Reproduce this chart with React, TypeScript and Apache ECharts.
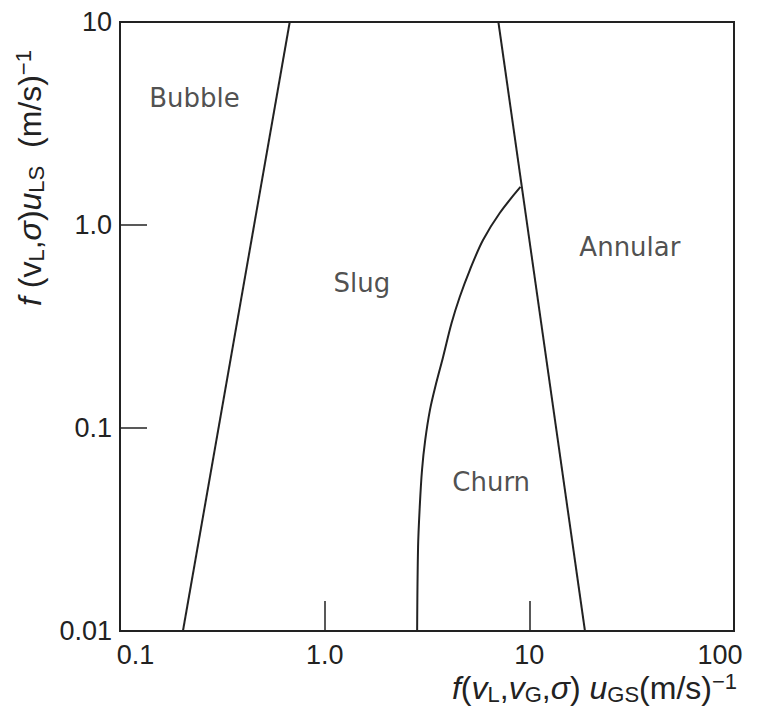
import React, { useEffect, useRef } from "react";
import * as echarts from "echarts";

const xTickLabels = ["0.1", "1.0", "10", "100"];
const yTickLabels = ["0.01", "0.1", "1.0", "10"];

// Bubble / Slug boundary
const bubbleSlugX = [0.203, 0.675];
const bubbleSlugY = [0.01, 10];

// Slug / Annular (and Churn / Annular) boundary
const slugAnnularX = [7.06, 18.7];
const slugAnnularY = [10, 0.01];

// Slug / Churn boundary
const churnX = [2.83, 2.86, 2.914, 2.99, 3.1, 3.27, 3.5, 3.79, 4.17, 4.57, 5.12, 5.94, 7.17, 9.05];
const churnY = [0.01, 0.0259, 0.0408, 0.0621, 0.0873, 0.1228, 0.165, 0.224, 0.329, 0.442, 0.6, 0.843, 1.146, 1.54];

// Regime labels
const regimeNames = ["Bubble", "Slug", "Annular", "Churn"];
const regimeX = [0.231, 1.52, 31.0, 6.51];
const regimeY = [4.23, 0.518, 0.78, 0.0542];

const ink = "#222";

const pairs = (xs: number[], ys: number[]) => xs.map((x, i) => [x, ys[i]]);

export default function App() {
  const ref = useRef<HTMLDivElement>(null);
  useEffect(() => {
    if (!ref.current) return;
    const chart = echarts.init(ref.current, null, { renderer: "svg" });
    const lineStyle = { color: ink, width: 2 };
    const rich = {
      i: { fontFamily: "Liberation Sans", fontStyle: "italic", fontSize: 32, color: ink },
      s: { fontFamily: "Liberation Sans", fontSize: 22, color: ink, padding: [13, 0, 0, 0] },
      p: { fontFamily: "Liberation Sans", fontSize: 22, color: ink, padding: [0, 0, 14, 0] },
    };
    chart.setOption({
      animation: false,
      backgroundColor: "#fff",
      grid: {
        left: 120,
        right: 28,
        top: 22,
        bottom: 90,
        show: true,
        borderColor: ink,
        borderWidth: 2,
        backgroundColor: "transparent",
      },
      xAxis: {
        type: "log",
        logBase: 10,
        min: 0.1,
        max: 100,
        axisLine: { show: false },
        splitLine: { show: false },
        axisTick: { show: true, inside: true, length: 30, lineStyle: { color: ink, width: 1.5 } },
        minorTick: { show: false },
        axisLabel: {
          margin: 10,
          fontFamily: "Liberation Sans",
          fontSize: 27,
          color: ink,
          formatter: (_v: number, i: number) => {
            const t = xTickLabels[i] ?? "";
            if (i === 0) return `{a|${t}}`;
            if (i === xTickLabels.length - 1) return `{b|${t}}`;
            return t;
          },
          rich: {
            a: { fontFamily: "Liberation Sans", fontSize: 27, color: ink, padding: [0, 0, 0, 31] },
            b: { fontFamily: "Liberation Sans", fontSize: 27, color: ink, padding: [0, 28, 0, 0] },
          },
        },
      },
      yAxis: {
        type: "log",
        logBase: 10,
        min: 0.01,
        max: 10,
        axisLine: { show: false },
        splitLine: { show: false },
        axisTick: { show: true, inside: true, length: 27, lineStyle: { color: ink, width: 1.5 } },
        minorTick: { show: false },
        axisLabel: {
          margin: 8,
          fontFamily: "Liberation Sans",
          fontSize: 27,
          color: ink,
          formatter: (_v: number, i: number) => yTickLabels[i] ?? "",
        },
      },
      series: [
        {
          type: "line",
          data: pairs(bubbleSlugX, bubbleSlugY),
          symbol: "none",
          lineStyle,
          silent: true,
        },
        {
          type: "line",
          data: pairs(slugAnnularX, slugAnnularY),
          symbol: "none",
          lineStyle,
          silent: true,
        },
        {
          type: "line",
          data: pairs(churnX, churnY),
          symbol: "none",
          smooth: 0.35,
          lineStyle,
          silent: true,
        },
        {
          type: "scatter",
          symbolSize: 1,
          itemStyle: { color: "transparent" },
          data: regimeNames.map((n, i) => ({ name: n, value: [regimeX[i], regimeY[i]] })),
          label: {
            show: true,
            position: "inside",
            formatter: "{b}",
            fontFamily: "DejaVu Sans",
            fontSize: 26,
            color: ink,
          },
          silent: true,
        },
      ],
      graphic: [
        {
          type: "text",
          x: 30,
          y: 178,
          rotation: Math.PI / 2,
          style: {
            text: "{i|f} (v{s|L},{i|σ}){i|u}{s|LS}  (m/s){p|−1}",
            rich,
            fontFamily: "Liberation Sans",
            fontSize: 32,
            fill: ink,
            align: "center",
            verticalAlign: "middle",
          },
        },
        {
          type: "text",
          x: 737,
          y: 688,
          style: {
            text: "{i|f}({i|v}{s|L},{i|v}{s|G},{i|σ}) {i|u}{s|GS}(m/s){p|−1}",
            rich,
            fontFamily: "Liberation Sans",
            fontSize: 32,
            fill: ink,
            align: "right",
            verticalAlign: "middle",
          },
        },
      ],
    });
    return () => chart.dispose();
  }, []);
  return (
    <div
      ref={ref}
      style={{ position: "absolute", left: 0, top: 0, width: 762, height: 721 }}
    />
  );
}
